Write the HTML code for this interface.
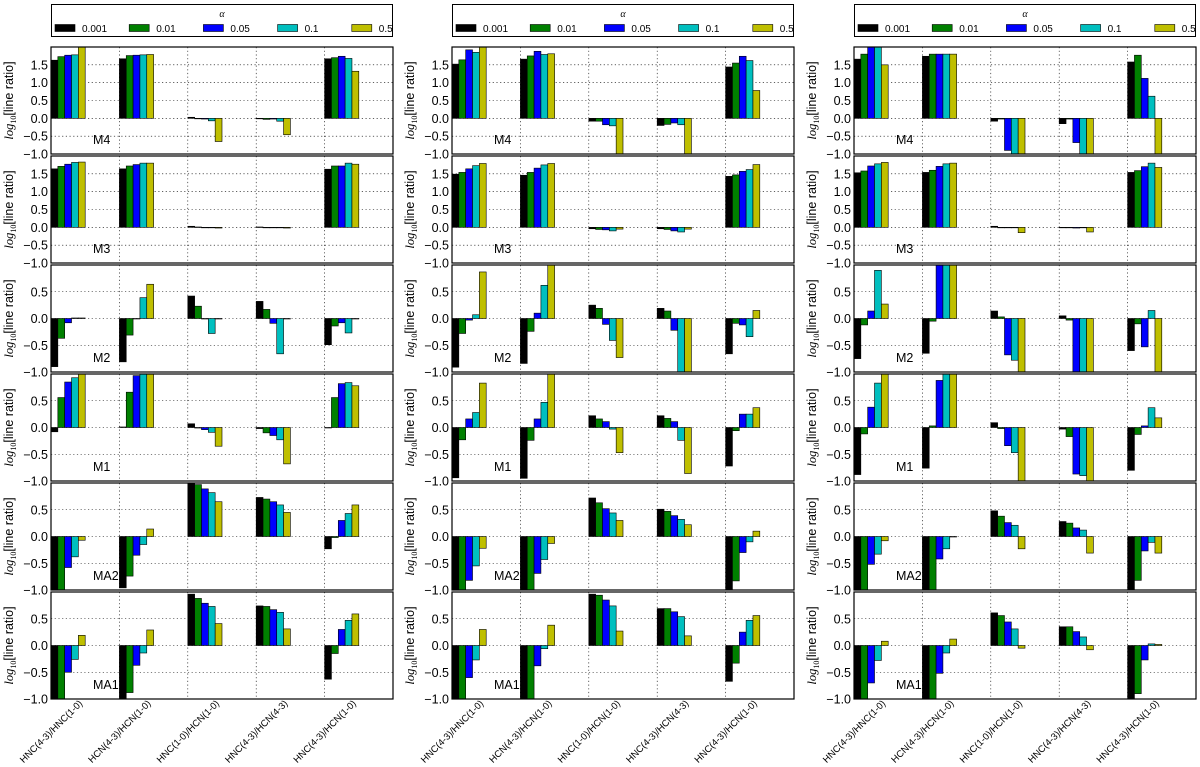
<!DOCTYPE html>
<html><head><meta charset="utf-8">
<style>
html,body{margin:0;padding:0;background:#fff;}
svg{display:block;font-family:"Liberation Sans","DejaVu Sans",sans-serif;}
</style></head>
<body>
<svg id="chart" width="1200" height="767" viewBox="0 0 1200 767" xmlns="http://www.w3.org/2000/svg"></svg>
<script>
const categories = ["HNC(4-3)/HNC(1-0)","HCN(4-3)/HCN(1-0)","HNC(1-0)/HCN(1-0)","HNC(4-3)/HCN(4-3)","HNC(4-3)/HCN(1-0)"];
const alphas = ["0.001","0.01","0.05","0.1","0.5"];
const models = ["M4","M3","M2","M1","MA2","MA1"];
const colors = ["#000000","#008000","#0000ff","#00bfbf","#bfbf00"];
const yMaxByRow = [2,2,1,1,1,1];
const ticksHigh = [-1.0,-0.5,0.0,0.5,1.0,1.5];
const ticksLow = [-1.0,-0.5,0.0,0.5];

// column 1
const col1M4 = [[1.63,1.73,1.77,1.78,2.0],[1.67,1.76,1.77,1.78,1.79],[0.03,-0.01,-0.02,-0.07,-0.65],[0.0,-0.03,-0.02,-0.08,-0.46],[1.67,1.7,1.74,1.68,1.32]];
const col1M3 = [[1.64,1.71,1.77,1.82,1.83],[1.64,1.72,1.76,1.8,1.8],[0.03,0.01,0.0,0.0,-0.02],[0.01,0.0,-0.01,0.0,-0.02],[1.63,1.72,1.72,1.8,1.77]];
const col1M2 = [[-0.9,-0.37,-0.08,0.01,0.01],[-0.81,-0.31,0.0,0.39,0.64],[0.42,0.23,0.0,-0.28,0.0],[0.32,0.17,-0.09,-0.66,0.0],[-0.49,-0.14,-0.08,-0.27,0.0]];
const col1M1 = [[-0.08,0.56,0.85,0.93,1.0],[0.01,0.66,0.97,1.0,1.0],[0.07,-0.01,-0.04,-0.09,-0.35],[-0.02,-0.1,-0.15,-0.23,-0.68],[0.0,0.56,0.82,0.84,0.78]];
const col1MA2 = [[-1,-1,-0.58,-0.38,-0.07],[-0.96,-0.74,-0.35,-0.15,0.14],[1.0,0.97,0.89,0.82,0.65],[0.73,0.7,0.65,0.59,0.45],[-0.23,-0.02,0.3,0.43,0.59]];
const col1MA1 = [[-1,-1,-0.5,-0.26,0.19],[-1,-0.88,-0.37,-0.14,0.29],[0.96,0.88,0.79,0.73,0.41],[0.74,0.73,0.67,0.62,0.31],[-0.63,-0.15,0.3,0.47,0.59]];
// column 2
const col2M4 = [[1.52,1.64,1.92,1.85,2.0],[1.66,1.75,1.88,1.79,1.81],[-0.08,-0.08,-0.18,-0.21,-1.0],[-0.2,-0.17,-0.13,-0.18,-1.0],[1.44,1.55,1.74,1.62,0.78]];
const col2M3 = [[1.49,1.54,1.64,1.73,1.79],[1.46,1.54,1.66,1.75,1.79],[-0.04,-0.06,-0.07,-0.1,-0.05],[-0.04,-0.06,-0.1,-0.13,-0.05],[1.43,1.47,1.57,1.62,1.76]];
const col2M2 = [[-0.91,-0.28,-0.03,0.07,0.87],[-0.84,-0.24,0.1,0.62,1.0],[0.25,0.19,-0.11,-0.41,-0.73],[0.19,0.14,-0.22,-1.0,-1.0],[-0.66,-0.09,-0.12,-0.34,0.15]];
const col2M1 = [[-0.94,-0.23,0.16,0.28,0.83],[-0.95,-0.24,0.16,0.47,1.0],[0.22,0.16,0.11,-0.03,-0.47],[0.22,0.17,0.11,-0.24,-0.86],[-0.72,-0.06,0.25,0.25,0.37]];
const col2MA2 = [[-1,-1,-0.82,-0.55,-0.22],[-1,-1,-0.69,-0.43,-0.13],[0.72,0.63,0.52,0.44,0.3],[0.51,0.47,0.39,0.32,0.22],[-1,-0.83,-0.3,-0.1,0.1]];
const col2MA1 = [[-1,-1,-0.6,-0.27,0.3],[-1,-1,-0.38,-0.06,0.38],[0.96,0.94,0.85,0.74,0.27],[0.69,0.69,0.63,0.54,0.18],[-0.67,-0.33,0.25,0.47,0.56]];
// column 3
const col3M4 = [[1.66,1.8,2.0,2.0,1.5],[1.74,1.8,1.8,1.8,1.8],[-0.08,-0.02,-0.9,-1.0,-1.0],[-0.15,-0.02,-0.68,-1.0,-1.0],[1.58,1.77,1.12,0.62,-1.0]];
const col3M3 = [[1.53,1.58,1.72,1.78,1.82],[1.54,1.6,1.71,1.78,1.8],[0.03,0.0,-0.01,0.0,-0.15],[0.0,0.0,-0.02,0.0,-0.13],[1.54,1.59,1.7,1.8,1.68]];
const col3M2 = [[-0.75,-0.12,0.14,0.9,0.27],[-0.65,-0.05,1.0,1.0,1.0],[0.14,0.03,-0.68,-0.78,-1.0],[0.05,-0.03,-1,-1,-1],[-0.6,-0.1,-0.53,0.15,-1.0]];
const col3M1 = [[-0.88,-0.12,0.38,0.83,1.0],[-0.76,0.03,0.88,1.0,1.0],[0.09,-0.02,-0.34,-0.47,-1.0],[-0.03,-0.17,-0.87,-0.9,-1.0],[-0.8,-0.13,0.03,0.37,0.18]];
const col3MA2 = [[-1,-1,-0.52,-0.33,-0.08],[-1,-1,-0.42,-0.23,0.0],[0.48,0.38,0.26,0.21,-0.23],[0.28,0.25,0.16,0.12,-0.31],[-1,-0.82,-0.27,-0.11,-0.31]];
const col3MA1 = [[-1,-1,-0.7,-0.28,0.08],[-1,-1,-0.52,-0.14,0.12],[0.61,0.56,0.44,0.31,-0.05],[0.35,0.35,0.26,0.16,-0.08],[-1,-0.9,-0.27,0.03,0.02]];

const grid = [
 [col1M4,col1M3,col1M2,col1M1,col1MA2,col1MA1],
 [col2M4,col2M3,col2M2,col2M1,col2MA2,col2MA1],
 [col3M4,col3M3,col3M2,col3M1,col3MA2,col3MA1]
];

const NS = "http://www.w3.org/2000/svg";
const svg = document.getElementById('chart');
const colLeft = [51,452,854], W = 342;
const rowTop = [47,156,265,374,483,592], H = 107;
const catW = W/5, barW = catW*0.1;
function mk(tag, attrs, parent){
  const e = document.createElementNS(NS, tag);
  for (const k in attrs) e.setAttribute(k, attrs[k]);
  (parent||svg).appendChild(e);
  return e;
}
const defs = mk('defs',{});

for (let c=0;c<3;c++){
  const L = colLeft[c];
  const lg = mk('g',{});
  
  
  mk('rect',{x:L+0.5,y:4.5,width:W-1,height:32,fill:'#fff',stroke:'#000','stroke-width':1},lg);
  const at = mk('text',{x:L+W/2,y:17,'font-size':10,'font-style':'italic','text-anchor':'middle',fill:'#000',"font-family":"Liberation Serif, serif"},lg);
  at.textContent='α';
  
  
  for (let j=0;j<5;j++){
    const ex = L+4+j*74.2;
    const ent = mk('g',{},lg);
    
    
    mk('rect',{x:ex,y:24.5,width:20,height:7,fill:colors[j],stroke:'#000','stroke-width':0.6},ent);
    const t = mk('text',{x:ex+27,y:32,'font-size':10,fill:'#000'},ent);
    t.textContent = alphas[j];
  }
  for (let r=0;r<6;r++){
    const T = rowTop[r], ymax = yMaxByRow[r], ymin=-1;
    const yS = v => T + (ymax - v)/(ymax-ymin)*H;
    const g = mk('g',{});
    
    
    const cid = 'clip'+c+'_'+r;
    const cp = mk('clipPath',{id:cid},defs);
    mk('rect',{x:L,y:T,width:W,height:H},cp);
    mk('rect',{x:L,y:T,width:W,height:H,fill:'#fff'},g);
    const ticks = ymax===2 ? ticksHigh : ticksLow;
    ticks.forEach(tv=>{
      const y = yS(tv);
      if (tv>-1) mk('line',{x1:L,x2:L+W,y1:y,y2:y,stroke:'#000','stroke-width':0.6,'stroke-dasharray':'1.2,2.5'},g);
      const tl = mk('text',{x:L-3,y:y+4.5,'font-size':12.5,'text-anchor':'end',fill:'#000'},g);
      tl.textContent = (tv<0?'\u2212':'')+Math.abs(tv).toFixed(1);
      
      
    });
    for (let i=1;i<5;i++){
      const x = L+i*catW;
      mk('line',{x1:x,x2:x,y1:T,y2:T+H,stroke:'#000','stroke-width':0.6,'stroke-dasharray':'1.2,2.5'},g);
    }
    const bg = mk('g',{'clip-path':'url(#'+cid+')'},g);
    const data = grid[c][r];
    for (let i=0;i<5;i++){
      for (let j=0;j<5;j++){
        const v = data[i][j];
        const x = L + i*catW + j*barW;
        const y0 = yS(0), y1 = yS(v);
        const b = mk('rect',{x:x,y:Math.min(y0,y1),width:barW,height:Math.max(0.5,Math.abs(y1-y0)),fill:colors[j],stroke:'#000','stroke-width':0.6},bg);
        
        
      }
    }
    mk('rect',{x:L,y:T,width:W,height:H,fill:'none',stroke:'#000','stroke-width':1.2},g);
    const ml = mk('text',{x:L+42,y:T+H-10,'font-size':12.5,fill:'#000'},g);
    ml.textContent = models[r];
    
    
    const yl = mk('text',{x:0,y:0,'font-size':12.5,'text-anchor':'middle',fill:'#000',transform:'translate('+(L-38)+','+(T+H/2)+') rotate(-90)'},g);
    yl.innerHTML = '<tspan font-style="italic" font-family="Liberation Serif, serif">log</tspan><tspan font-size="8" dy="3" font-family="Liberation Serif, serif">10</tspan><tspan dy="-3">[line ratio]</tspan>';
    
    
  }
  for (let i=0;i<5;i++){
    const x = L + i*catW + 32, y = 704;
    const xl = mk('text',{x:x,y:y,'font-size':9.5,'text-anchor':'end',fill:'#000',transform:'rotate(-45 '+x+' '+y+')'});
    xl.textContent = categories[i];
    
    
  }
}
</script>
</body></html>
